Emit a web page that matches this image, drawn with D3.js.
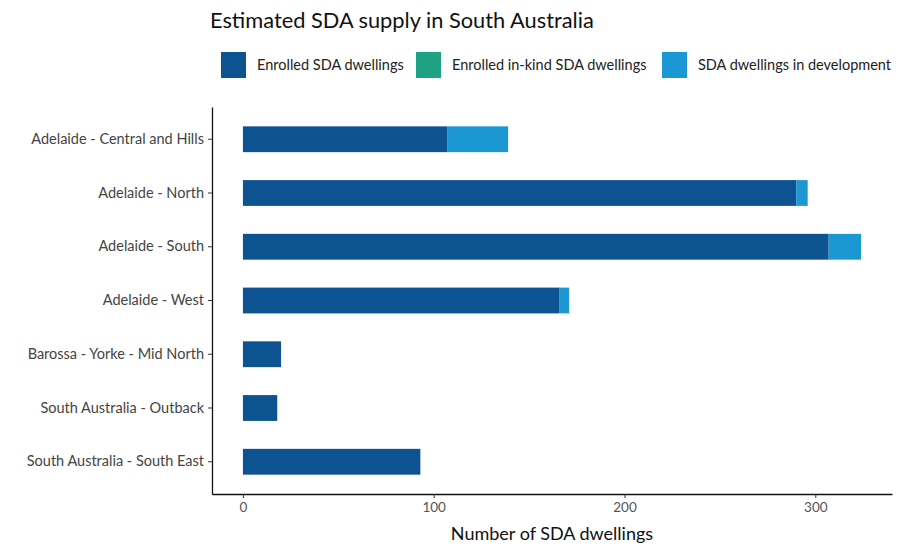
<!DOCTYPE html>
<html>
<head>
<meta charset="utf-8">
<script src="https://cdn.jsdelivr.net/npm/d3@7"></script>
<style>
  html, body { margin: 0; padding: 0; background: #fff; }
  svg { display: block; font-family: "Lato", "Noto Sans", sans-serif; }
</style>
</head>
<body>
<svg id="chart" width="908" height="546"></svg>
<script>
// Regions of South Australia, top to bottom
const regions = [
  "Adelaide - Central and Hills",
  "Adelaide - North",
  "Adelaide - South",
  "Adelaide - West",
  "Barossa - Yorke - Mid North",
  "South Australia - Outback",
  "South Australia - South East"
];
// Dwelling counts per region
const enrolled    = [107, 290, 307, 166, 20, 18, 93];
const enrolledInKind = [0, 0, 0, 0, 0, 0, 0];
const inDevelopment  = [32, 6, 17, 5, 0, 0, 0];

const seriesNames = ["Enrolled SDA dwellings", "Enrolled in-kind SDA dwellings", "SDA dwellings in development"];
const seriesColors = ["#0d5291", "#1fa283", "#1b97d3"];
const xTicks = [0, 100, 200, 300];

const rows = regions.map((r, i) => ({
  region: r,
  s0: enrolled[i],
  s1: enrolledInKind[i],
  s2: inDevelopment[i]
}));
const keys = ["s0", "s1", "s2"];
const stacked = d3.stack().keys(keys)(rows);

const svg = d3.select("#chart");
const plot = { left: 212, right: 892, top: 107, bottom: 494 };

const maxTotal = d3.max(rows, d => d.s0 + d.s1 + d.s2);
const pad = maxTotal * 0.05;
const x = d3.scaleLinear().domain([-pad, maxTotal + pad]).range([plot.left, plot.right]);

// Band scale with ggplot-like 0.6 expansion on each end
const y = d3.scaleBand().domain(regions)
  .range([plot.top, plot.bottom])
  .paddingInner(0.52).paddingOuter(0.36);

// Bars
svg.append("g").selectAll("g")
  .data(stacked)
  .join("g")
  .attr("fill", (d, i) => seriesColors[i])
  .selectAll("rect")
  .data(d => d)
  .join("rect")
  .attr("x", d => x(d[0]))
  .attr("width", d => Math.max(0, x(d[1]) - x(d[0])))
  .attr("y", d => y(d.data.region))
  .attr("height", y.bandwidth());

// X axis
const xAxis = svg.append("g")
  .attr("transform", `translate(0,${plot.bottom})`)
  .call(d3.axisBottom(x).tickValues(xTicks).tickSize(4).tickPadding(4).tickSizeOuter(0));
xAxis.select(".domain").attr("stroke", "#111").attr("stroke-width", 1.3);
xAxis.selectAll(".tick line").attr("stroke", "#333");
xAxis.selectAll(".tick text").attr("fill", "#555").attr("font-size", 13.5)
  .attr("font-family", "Lato, sans-serif");

// Y axis
const yAxis = svg.append("g")
  .attr("transform", `translate(${plot.left},0)`)
  .call(d3.axisLeft(y).tickSize(4).tickPadding(4).tickSizeOuter(0));
yAxis.select(".domain").attr("stroke", "#111").attr("stroke-width", 1.3);
yAxis.selectAll(".tick line").attr("stroke", "#333");
yAxis.selectAll(".tick text").attr("fill", "#444").attr("font-size", 14.5)
  .attr("font-family", "Lato, sans-serif");

// X axis title
svg.append("text")
  .attr("x", (plot.left + plot.right) / 2)
  .attr("y", 540)
  .attr("text-anchor", "middle")
  .attr("font-size", 18)
  .attr("fill", "#111")
  .text("Number of SDA dwellings");

// Title
svg.append("text")
  .attr("x", 210)
  .attr("y", 28)
  .attr("font-size", 21.8)
  .attr("fill", "#111")
  .text("Estimated SDA supply in South Australia");

// Legend
const legendItems = [
  { x: 221, textX: 257 },
  { x: 416, textX: 452 },
  { x: 662, textX: 698 }
];
const legend = svg.append("g");
legendItems.forEach((it, i) => {
  legend.append("rect")
    .attr("x", it.x).attr("y", 52)
    .attr("width", 25).attr("height", 26)
    .attr("fill", seriesColors[i]);
  legend.append("text")
    .attr("x", it.textX).attr("y", 70)
    .attr("font-size", 14.5)
    .attr("fill", "#222")
    .text(seriesNames[i]);
});
</script>
</body>
</html>
